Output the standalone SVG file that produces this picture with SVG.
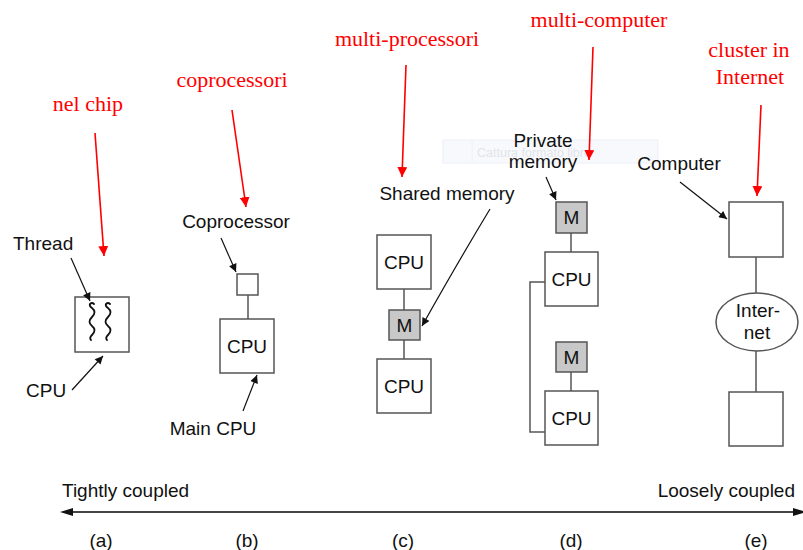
<svg xmlns="http://www.w3.org/2000/svg" width="803" height="550" viewBox="0 0 803 550">
<style>
.box{fill:#fff;stroke:#555;stroke-width:1.5}
.mem{fill:#c8c8c8;stroke:#555;stroke-width:1.5}
.ln{stroke:#555;stroke-width:1.5;fill:none}
.lbl{font-family:"Liberation Sans",Arial,sans-serif;font-size:19px;fill:#111}
.red{font-family:"Liberation Serif","Times New Roman",serif;font-size:22px;fill:#ff0000}
.ra{stroke:#ff0000;stroke-width:1.6;fill:none}
.ba{stroke:#111;stroke-width:1.2;fill:none}
.thr{stroke:#111;stroke-width:1.8;fill:none;stroke-linecap:round}
</style>
<defs>
<marker id="rh" viewBox="0 0 10 10" refX="10" refY="5" markerWidth="10" markerHeight="10" markerUnits="userSpaceOnUse" orient="auto"><path d="M0,0 L10,5 L0,10 z" fill="#ff0000"/></marker>
<marker id="bh" viewBox="0 0 10 10" refX="10" refY="5" markerWidth="10" markerHeight="8" markerUnits="userSpaceOnUse" orient="auto"><path d="M0,0 L10,5 L0,10 z" fill="#111"/></marker>
</defs>
<rect width="803" height="550" fill="#fff"/>
<g id="watermark">
<rect x="443" y="140" width="215" height="23" fill="#f8f9fd" stroke="#eef0f6" stroke-width="1"/>
<line x1="472" y1="141" x2="472" y2="162" stroke="#eef0f6"/>
<text x="477" y="157" font-family="'Liberation Sans',Arial,sans-serif" font-size="12.5" fill="#e2e4ea">Cattura formato libro</text>
</g>
<g id="labels-red">
<text class="red" x="88" y="111" text-anchor="middle">nel chip</text>
<text class="red" x="232" y="87" text-anchor="middle">coprocessori</text>
<text class="red" x="407" y="46" text-anchor="middle">multi-processori</text>
<text class="red" x="599" y="27" text-anchor="middle">multi-computer</text>
<text class="red" x="749" y="57" text-anchor="middle">cluster in</text>
<text class="red" x="750" y="84" text-anchor="middle">Internet</text>
</g>
<g id="a-cpu">
<rect class="box" x="75" y="297" width="54" height="55"/>
<path class="thr" d="M94,304 q-2,-2 -4,0 q-1,2 2,4 q5,4 0,9 q-5,5 0,9 q5,4 0,9 q-3,3 -1,5"/>
<path class="thr" d="M110,304 q-2,-2 -4,0 q-1,2 2,4 q5,4 0,9 q-5,5 0,9 q5,4 0,9 q-3,3 -1,5"/>
</g>
<g id="a-labels">
<text class="lbl" x="13" y="250">Thread</text>
<text class="lbl" x="26" y="397">CPU</text>
</g>
<g id="b-coproc"><rect class="box" x="237" y="274" width="21" height="21"/></g>
<g id="b-cpu"><rect class="box" x="220" y="319" width="54" height="54"/><text class="lbl" x="247" y="353" text-anchor="middle">CPU</text></g>
<g id="b-labels">
<text class="lbl" x="236" y="228" text-anchor="middle">Coprocessor</text>
<text class="lbl" x="213" y="435" text-anchor="middle">Main CPU</text>
</g>
<g id="c-cpu1"><rect class="box" x="377" y="235" width="54" height="54"/><text class="lbl" x="404" y="269" text-anchor="middle">CPU</text></g>
<g id="c-mem"><rect class="mem" x="389" y="310" width="31" height="30"/><text class="lbl" x="404.5" y="332" text-anchor="middle">M</text></g>
<g id="c-cpu2"><rect class="box" x="377" y="359" width="54" height="54"/><text class="lbl" x="404" y="393" text-anchor="middle">CPU</text></g>
<g id="c-labels"><text class="lbl" x="447" y="200" text-anchor="middle">Shared memory</text></g>
<g id="d-mem1"><rect class="mem" x="556" y="202" width="31" height="31"/><text class="lbl" x="571.5" y="224" text-anchor="middle">M</text></g>
<g id="d-cpu1"><rect class="box" x="545" y="252" width="53" height="54"/><text class="lbl" x="571.5" y="286" text-anchor="middle">CPU</text></g>
<g id="d-mem2"><rect class="mem" x="556" y="342" width="31" height="30"/><text class="lbl" x="571.5" y="364" text-anchor="middle">M</text></g>
<g id="d-cpu2"><rect class="box" x="545" y="391" width="53" height="54"/><text class="lbl" x="571.5" y="425" text-anchor="middle">CPU</text></g>
<g id="d-labels">
<text class="lbl" x="543" y="147" text-anchor="middle">Private</text>
<text class="lbl" x="543" y="168" text-anchor="middle">memory</text>
</g>
<g id="e-comp1"><rect class="box" x="729" y="202" width="54" height="55"/></g>
<g id="e-internet"><ellipse class="box" cx="757" cy="322" rx="41" ry="29"/><text class="lbl" x="758" y="317" text-anchor="middle">Inter-</text><text class="lbl" x="757" y="339" text-anchor="middle">net</text></g>
<g id="e-comp2"><rect class="box" x="729" y="392" width="54" height="54"/></g>
<g id="e-labels"><text class="lbl" x="679" y="170" text-anchor="middle">Computer</text></g>
<g id="axis-labels">
<text class="lbl" x="62" y="497">Tightly coupled</text>
<text class="lbl" x="795" y="497" text-anchor="end">Loosely coupled</text>
<text class="lbl" x="101" y="547" text-anchor="middle">(a)</text>
<text class="lbl" x="247" y="547" text-anchor="middle">(b)</text>
<text class="lbl" x="403" y="547" text-anchor="middle">(c)</text>
<text class="lbl" x="571" y="547" text-anchor="middle">(d)</text>
<text class="lbl" x="756" y="547" text-anchor="middle">(e)</text>
</g>
<g id="connectors">
<line class="ln" x1="248" y1="295" x2="248" y2="319"/>
<line class="ln" x1="404" y1="289" x2="404" y2="310"/>
<line class="ln" x1="404" y1="340" x2="404" y2="359"/>
<line class="ln" x1="571" y1="233" x2="571" y2="252"/>
<line class="ln" x1="571" y1="372" x2="571" y2="391"/>
<polyline class="ln" points="545,282 530,282 530,432 545,432"/>
<line class="ln" x1="756" y1="257" x2="756" y2="293"/>
<line class="ln" x1="756" y1="351" x2="756" y2="392"/>
<line class="ba" x1="71" y1="258" x2="90" y2="301" marker-end="url(#bh)"/>
<line class="ba" x1="72" y1="390" x2="103" y2="356" marker-end="url(#bh)"/>
<line class="ba" x1="221" y1="238" x2="236" y2="272" marker-end="url(#bh)"/>
<line class="ba" x1="243" y1="411" x2="257" y2="375" marker-end="url(#bh)"/>
<path class="ba" d="M490,209 Q458,262 422,326" marker-end="url(#bh)"/>
<line class="ba" x1="546" y1="177" x2="556" y2="200" marker-end="url(#bh)"/>
<line class="ba" x1="680" y1="182" x2="727" y2="219" marker-end="url(#bh)"/>
<line class="ra" x1="95" y1="133" x2="104" y2="256" marker-end="url(#rh)"/>
<line class="ra" x1="232" y1="110" x2="246" y2="207" marker-end="url(#rh)"/>
<line class="ra" x1="406" y1="65" x2="402" y2="177" marker-end="url(#rh)"/>
<line class="ra" x1="593" y1="47" x2="589" y2="160" marker-end="url(#rh)"/>
<line class="ra" x1="761" y1="105" x2="757" y2="196" marker-end="url(#rh)"/>
<line x1="70" y1="512" x2="795" y2="512" stroke="#444" stroke-width="2.2"/>
<path d="M60,512 L73,508 L73,516 z" fill="#111"/>
<path d="M806,512 L793,508 L793,516 z" fill="#111"/>
</g>
</svg>
